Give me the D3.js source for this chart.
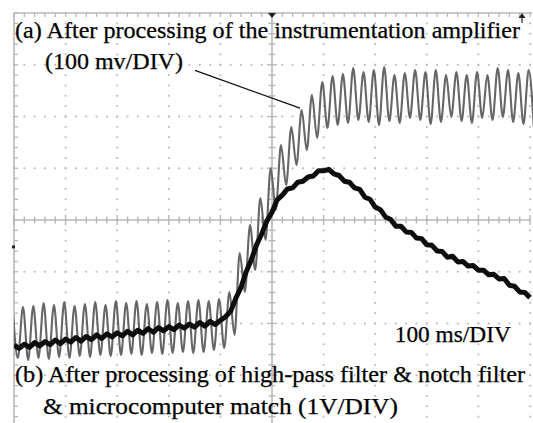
<!DOCTYPE html>
<html><head><meta charset="utf-8">
<script src="https://cdn.jsdelivr.net/npm/d3@7"></script>
<style>html,body{margin:0;padding:0;background:#fff;}svg{display:block;}</style>
</head><body>
<svg id="chart" width="533" height="423"></svg>
<script>
// Time axis: 10 divisions x 100 ms; vertical: 8 divisions (centre = 0)
const timeDomain = [0, 1000];
const divDomain = [-4, 4];

// Trace (a): alternating peak / trough values (divisions), one every 10 ms starting at t = -2.6 ms
const grayStartTime = -2.6;
const grayStep = 10;
const grayValues = [-1.70,
 -2.667,-1.681,-2.705,-1.662,-2.667,-1.604,-2.686,-1.643,-2.647,-1.585,
 -2.667,-1.662,-2.628,-1.623,-2.647,-1.585,-2.609,-1.643,-2.628,-1.565,
 -2.609,-1.604,-2.589,-1.565,-2.609,-1.623,-2.570,-1.585,-2.589,-1.546,
 -2.570,-1.604,-2.551,-1.565,-2.570,-1.546,-2.551,-1.565,-2.512,-1.527,
 -2.473,-1.391,-2.222,-0.638,-1.391,-0.097,-0.966,0.425,-0.386,1.005,
 0.193,1.449,0.676,1.797,1.063,2.126,1.353,2.415,1.585,2.667,
 1.778,2.783,1.836,2.821,1.874,2.937,1.932,2.860,1.894,2.899,
 1.836,2.957,1.913,2.802,1.874,2.841,1.971,2.899,1.932,2.860,
 1.855,2.899,1.894,2.802,1.990,2.860,1.913,2.802,1.874,2.860,
 1.971,2.802,1.932,2.937,1.990,2.899,1.894,2.841,1.855,2.899,1.797];

// Trace (b): sampled every 10 ms from 0 to 1000 ms (divisions)
const blackTimes = d3.range(0, 1001, 10);
const blackValues = [
 -2.42,-2.48,-2.40,-2.46,-2.37,-2.43,-2.35,-2.41,-2.32,-2.39,
 -2.30,-2.36,-2.27,-2.34,-2.25,-2.31,-2.22,-2.29,-2.20,-2.26,
 -2.18,-2.24,-2.15,-2.22,-2.13,-2.19,-2.10,-2.17,-2.08,-2.14,
 -2.06,-2.12,-2.03,-2.09,-2.01,-2.07,-1.98,-2.05,-1.96,-2.02,
 -1.94,-1.87,-1.76,-1.51,-1.30,-1.00,-0.77,-0.48,-0.27,-0.02,
 0.15,0.39,0.48,0.60,0.62,0.73,0.75,0.83,0.85,0.95,
 0.95,0.98,0.89,0.86,0.75,0.73,0.62,0.59,0.44,0.40,
 0.25,0.20,0.06,0.01,-0.12,-0.12,-0.23,-0.24,-0.35,-0.36,
 -0.48,-0.49,-0.60,-0.61,-0.72,-0.70,-0.81,-0.80,-0.89,-0.88,
 -0.97,-0.97,-1.06,-1.05,-1.14,-1.13,-1.26,-1.28,-1.39,-1.40,-1.50];

// Annotation texts
const labels = [
 {text:"(a) After processing of the instrumentation amplifier", t:2, v:3.52, w:505},
 {text:"(100 mv/DIV)", t:60, v:2.91, w:138},
 {text:"100 ms/DIV", t:738, v:-2.36, w:116},
 {text:"(b) After processing of high-pass filter & notch filter", t:2, v:-3.13, w:510},
 {text:"& microcomputer match  (1V/DIV)", t:56, v:-3.74, w:355}
];
const pointer = [{t:apx(195), v:2.89}, {t:apx(300), v:2.16}];
function apx(px){ return (px-14)/0.516; }

const svg = d3.select("#chart");
const x = d3.scaleLinear().domain(timeDomain).range([14, 530]);
const y = d3.scaleLinear().domain(divDomain).range([427, 13]);

const defs = svg.append("defs");
defs.append("clipPath").attr("id","clip")
  .append("rect").attr("x",14).attr("y",13).attr("width",519).attr("height",410);
defs.append("filter").attr("id","soft").append("feGaussianBlur").attr("stdDeviation",0.45);

const gridColor = "#b8b8b8";
const g = svg.append("g");
const minorT = d3.range(0, 1000.01, 20);
const minorV = d3.range(-4, 4.001, 0.2);
const majorT = [100,200,300,400,600,700,800,900,1000];
const majorV = [-3,-2,-1,1,2,3];

majorT.forEach(t => {
  g.selectAll(null).data(minorV).enter().append("rect")
    .attr("x", x(t)-0.9).attr("y", d => y(d)-0.9).attr("width",1.8).attr("height",1.8)
    .attr("fill", gridColor);
});
majorV.forEach(v => {
  g.selectAll(null).data(minorT).enter().append("rect")
    .attr("x", d => x(d)-0.9).attr("y", y(v)-0.9).attr("width",1.8).attr("height",1.8)
    .attr("fill", gridColor);
});
g.append("line").attr("x1",x(0)).attr("x2",x(1000)).attr("y1",y(0)).attr("y2",y(0))
  .attr("stroke",gridColor).attr("stroke-width",1.6);
g.append("line").attr("x1",x(500)).attr("x2",x(500)).attr("y1",y(4)).attr("y2",423)
  .attr("stroke",gridColor).attr("stroke-width",1.6);
g.selectAll(null).data(minorT).enter().append("line")
  .attr("x1",d=>x(d)).attr("x2",d=>x(d))
  .attr("y1",d=> y(0) - (d%100===0?5:3.5)).attr("y2",d=> y(0) + (d%100===0?5:3.5))
  .attr("stroke",gridColor).attr("stroke-width",1.4);
g.selectAll(null).data(minorV).enter().append("line")
  .attr("y1",d=>y(d)).attr("y2",d=>y(d))
  .attr("x1",d=> x(500) - (Math.abs(d%1)<0.01?5:3.5)).attr("x2",d=> x(500) + (Math.abs(d%1)<0.01?5:3.5))
  .attr("stroke",gridColor).attr("stroke-width",1.4);
g.append("line").attr("x1",x(0)).attr("x2",x(0)).attr("y1",y(4)).attr("y2",423)
  .attr("stroke",gridColor).attr("stroke-width",1.6);
g.append("line").attr("x1",x(0)).attr("x2",x(1000)+2).attr("y1",y(4)).attr("y2",y(4))
  .attr("stroke",gridColor).attr("stroke-width",1.6);
g.selectAll(null).data(minorT).enter().append("line")
  .attr("x1",d=>x(d)).attr("x2",d=>x(d)).attr("y1",y(4)).attr("y2",y(4)+4)
  .attr("stroke",gridColor).attr("stroke-width",1.3);
g.selectAll(null).data(minorV).enter().append("line")
  .attr("y1",d=>y(d)).attr("y2",d=>y(d)).attr("x1",x(0)).attr("x2",x(0)+4)
  .attr("stroke",gridColor).attr("stroke-width",1.3);

// markers
const mk = 984.5;
svg.append("path").attr("d", `M${x(500)-4},${y(4)} L${x(500)+4},${y(4)} L${x(500)},${y(4)+5} Z`).attr("fill","#222");
svg.append("path").attr("d", `M${x(mk)-3.5},${y(4)+5} L${x(mk)+3.5},${y(4)+5} L${x(mk)},${y(4)} Z`).attr("fill","#222");
svg.append("line").attr("x1",x(mk)).attr("x2",x(mk)).attr("y1",y(4)+4).attr("y2",y(4)+10).attr("stroke","#222").attr("stroke-width",1.2);
svg.append("rect").attr("x",x(0)-2).attr("y",y(-0.52)-1.5).attr("width",3).attr("height",3).attr("fill","#222");

// traces
const plot = svg.append("g").attr("clip-path","url(#clip)");
const grayData = grayValues.map((v,i)=>({t: grayStartTime + grayStep*i, v}));
plot.append("path").datum(grayData)
  .attr("d", d3.line().x(d=>x(d.t)).y(d=>y(d.v)).curve(d3.curveMonotoneX))
  .attr("fill","none").attr("stroke","#666").attr("stroke-width",2.1)
  .attr("filter","url(#soft)");
const blackData = blackTimes.map((t,i)=>({t, v: blackValues[i]}));
plot.append("path").datum(blackData)
  .attr("d", d3.line().x(d=>x(d.t)).y(d=>y(d.v)))
  .attr("fill","none").attr("stroke","#111").attr("stroke-width",5)
  .attr("stroke-linejoin","round").attr("filter","url(#soft)");

// pointer line
svg.append("line").attr("x1",x(pointer[0].t)).attr("y1",y(pointer[0].v))
  .attr("x2",x(pointer[1].t)).attr("y2",y(pointer[1].v))
  .attr("stroke","#111").attr("stroke-width",1.3);

// labels
svg.selectAll(null).data(labels).enter().append("text")
  .attr("x", d=>x(d.t)).attr("y", d=>y(d.v))
  .attr("textLength", d=>d.w).attr("lengthAdjust","spacingAndGlyphs")
  .style("font-family", '"Liberation Serif"')
  .style("font-size","23px").attr("fill","#000")
  .attr("stroke","#000").attr("stroke-width",0.25)
  .text(d=>d.text);
</script>
</body></html>
